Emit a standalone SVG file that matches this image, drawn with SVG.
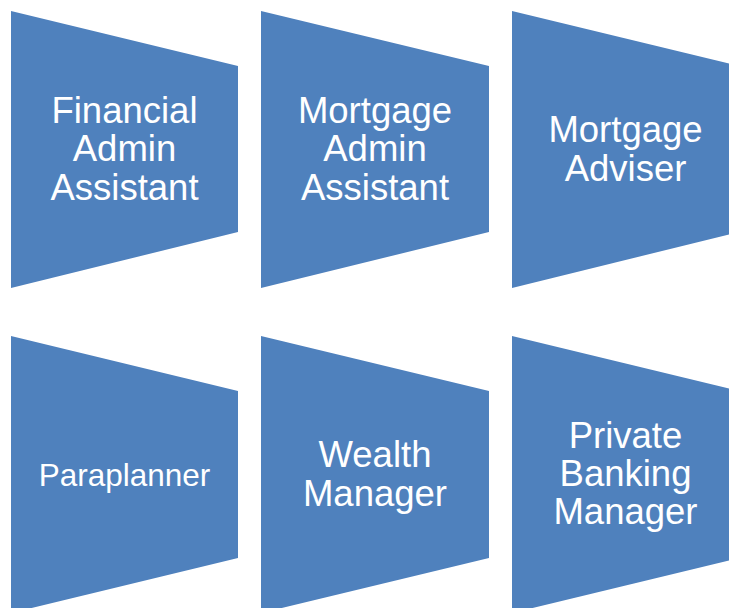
<svg xmlns="http://www.w3.org/2000/svg" width="729" height="608" viewBox="0 0 729 608">
<style>
.s{fill:#4F81BD;stroke:none}
.t{fill:#FFFFFF;font-family:"Liberation Sans",Arial,sans-serif;font-size:36.5px;text-anchor:middle}
.sm{font-size:31.5px}
</style>
<rect width="729" height="608" fill="#FFFFFF"/>
<g id="node-financial-admin-assistant">
<polygon class="s" points="11,11 238,66 238,232 11,288"/>
<text class="t" x="124.5" y="122.5">Financial</text>
<text class="t" x="124.5" y="161">Admin</text>
<text class="t" x="124.5" y="199.5">Assistant</text>
</g>
<g id="node-mortgage-admin-assistant">
<polygon class="s" points="261,11 489,66 489,232 261,288"/>
<text class="t" x="375" y="122.5">Mortgage</text>
<text class="t" x="375" y="161">Admin</text>
<text class="t" x="375" y="199.5">Assistant</text>
</g>
<g id="node-mortgage-adviser">
<polygon class="s" points="512,11 739,66 739,232 512,288"/>
<text class="t" x="625.5" y="142">Mortgage</text>
<text class="t" x="625.5" y="181">Adviser</text>
</g>
<g id="node-paraplanner">
<polygon class="s" points="11,336 238,391 238,558 11,613"/>
<text class="t sm" x="124.5" y="486">Paraplanner</text>
</g>
<g id="node-wealth-manager">
<polygon class="s" points="261,336 489,391 489,558 261,613"/>
<text class="t" x="375" y="467">Wealth</text>
<text class="t" x="375" y="505.5">Manager</text>
</g>
<g id="node-private-banking-manager">
<polygon class="s" points="512,336 739,391 739,558 512,613"/>
<text class="t" x="625.5" y="448">Private</text>
<text class="t" x="625.5" y="486">Banking</text>
<text class="t" x="625.5" y="524">Manager</text>
</g>
<g id="connectors"/>
</svg>
